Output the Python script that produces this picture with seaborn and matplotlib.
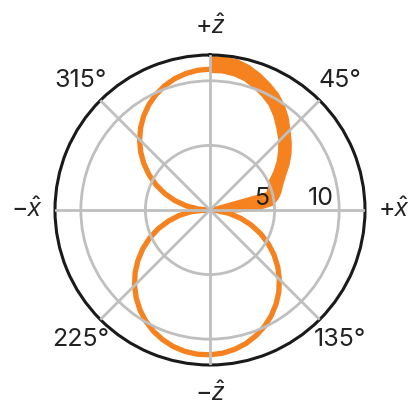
import numpy as np
import pandas as pd
import matplotlib
matplotlib.use("Agg")
import matplotlib.pyplot as plt
import seaborn as sns

# radiation pattern (theta in degrees, clockwise from +z)
pattern_deg = list(range(0, 365, 5))
pattern_r = [10.9, 10.85, 10.75, 10.55, 10.2, 9.85, 9.45, 8.9, 8.3, 7.75,
             7.15, 6.55, 5.9, 5.25, 4.95, 4.7, 0.6, 0.2, 0.0,
             0.51, 1.48, 2.45, 3.39, 4.31, 5.2, 6.05, 6.85, 7.59, 8.29,
             8.91, 9.47, 9.96, 10.37, 10.71, 10.96, 11.13, 11.21, 11.21, 11.12,
             10.95, 10.69, 10.36, 9.94, 9.45, 8.89, 8.26, 7.57, 6.81, 6.01,
             5.16, 4.28, 3.35, 2.41, 1.45, 0.3,
             0.95, 1.89, 2.82, 3.73, 4.61, 5.45, 6.25, 7.01, 7.71, 8.35,
             8.93, 9.44, 9.88, 10.24, 10.53, 10.73, 10.86, 10.9]

# spread of the upper +x lobe
band_deg = [0, 5, 10, 15, 20, 25, 30, 35, 40, 45, 50, 55, 60, 65, 70, 75, 78, 80, 85, 90, 95, 100]
band_lo = [10.7, 10.7, 10.6, 10.4, 10.05, 9.7, 9.3, 8.75, 8.15, 7.6, 7.0, 6.4, 5.75, 5.1,
           4.85, 4.6, 4.4, 0.0, 0.0, 0.0, 0.0, 0.0]
band_hi = [11.9, 11.9, 11.85, 11.6, 11.25, 10.85, 10.45, 9.95, 9.35, 8.7, 8.15, 7.6, 7.0, 6.4,
           5.95, 5.65, 5.45, 5.3, 4.85, 3.5, 1.5, 0.0]

theta_ticks = [0, 45, 90, 135, 180, 225, 270, 315]
theta_labels = [r'$+\hat{z}$', '45°', r'$+\hat{x}$', '135°',
                r'$-\hat{z}$', '225°', r'$-\hat{x}$', '315°']
r_ticks = [5, 10]
r_max = 12

orange = '#f5821f'
grey = '#bfbfbf'

sns.set_style("white")
plt.rcParams['font.family'] = ['Inter', 'DejaVu Sans']
plt.rcParams['mathtext.fontset'] = 'custom'
plt.rcParams['mathtext.rm'] = 'Inter'
plt.rcParams['mathtext.it'] = 'Liberation Sans:italic'

fig = plt.figure(figsize=(4.18, 4.15), dpi=100)
ax = fig.add_axes([0.1316, 0.1205, 0.7416, 0.747], projection='polar')
ax.set_theta_zero_location('N')
ax.set_theta_direction(-1)

df = pd.DataFrame({'theta': np.deg2rad(pattern_deg), 'r': pattern_r})
sns.lineplot(data=df, x='theta', y='r', ax=ax, color=orange, lw=3.8,
             sort=False, estimator=None)
ax.fill_between(np.deg2rad(band_deg), band_lo, band_hi, color=orange, ec=orange, lw=1)

ax.set_xlabel('')
ax.set_ylabel('')
ax.set_rlim(0, r_max)
ax.set_xticks(np.deg2rad(theta_ticks))
ax.set_xticklabels(theta_labels)
ax.set_yticks(r_ticks)
ax.set_yticklabels([])
ax.tick_params(axis='x', pad=10, labelsize=18, colors='#222222')
for r in r_ticks:
    ax.annotate(str(r), xy=(np.deg2rad(90), r), xytext=(-4, 0), textcoords='offset points',
                ha='right', va='bottom', fontsize=18, color='#222222')

ax.set_axisbelow(False)
ax.grid(True, color=grey, lw=2)
ax.spines['polar'].set_linewidth(2.2)
ax.spines['polar'].set_color('#1a1a1a')

fig.savefig('out.png', dpi=100)
